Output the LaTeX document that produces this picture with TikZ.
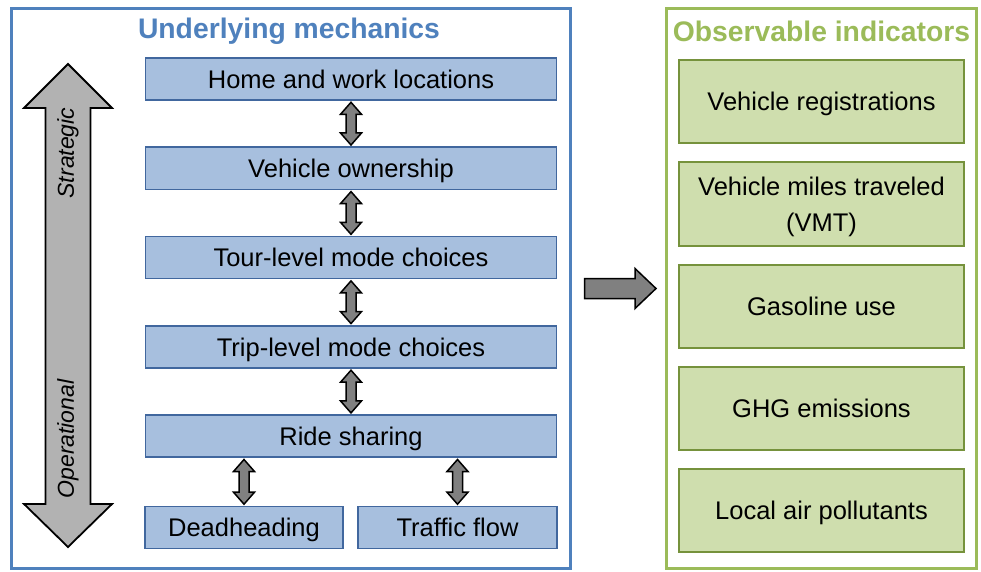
\documentclass[tikz,border=0pt]{standalone}
\usepackage{fontspec}
\setmainfont{Liberation Sans}
\usetikzlibrary{calc}

\definecolor{mechblue}{HTML}{4F81BD}
\definecolor{mechfill}{HTML}{A7BFDE}
\definecolor{mechline}{HTML}{41679E}
\definecolor{obsgreen}{HTML}{9BBB59}
\definecolor{obsfill}{HTML}{CFDEAE}
\definecolor{obsline}{HTML}{76923C}

\tikzset{
	frame/.style={draw=#1, line width=3pt, inner sep=0pt},
	mech/.style={draw=mechline, fill=mechfill, line width=1.6pt, minimum height=42pt, inner sep=0pt, text height=18.3pt, text depth=0pt, font=\fontsize{25.5}{36}\selectfont},
	obs/.style={draw=obsline, fill=obsfill, line width=2pt, minimum width=285pt, minimum height=83pt, inner sep=0pt, text height=18.3pt, text depth=0pt, font=\fontsize{25.5}{36}\selectfont},
	title/.style={anchor=base, text=#1, font=\bfseries\fontsize{28.3}{34}\selectfont},
	fat/.style={draw=black, fill=black!50, line width=1.5pt, line join=miter},
	side/.style={rotate=90, font=\itshape\fontsize{23}{28}\selectfont}
}

% fat double arrow between two stacked boxes
\newcommand\updown[2]{\draw[fat] let \p1=($(#1.south)+(0,1.5)$), \p2=($(#2.north)+(0,-1.5)$) in
	(\x2,\y1) -- (\x2+10.5pt,\y1-12pt) -- (\x2+5pt,\y1-12pt) -- (\x2+5pt,\y2+12pt) -- (\x2+10.5pt,\y2+12pt) -- (\x2,\y2)
	-- (\x2-10.5pt,\y2+12pt) -- (\x2-5pt,\y2+12pt) -- (\x2-5pt,\y1-12pt) -- (\x2-10.5pt,\y1-12pt) -- cycle;}

\begin{document}
\begin{tikzpicture}[x=1pt, y=-1pt]
	%%%%% START %%%%%
	\useasboundingbox (0,0) rectangle (981,572);
	
	% frames
	\node[frame=mechblue, minimum width=559pt, minimum height=559pt] (mechframe) at (290.5, 288.5) {};
	\node[frame=obsgreen, minimum width=310pt, minimum height=559.5pt] (obsframe) at (821.5, 288.5) {};
	\node[title=mechblue] (mechtitle) at (289, 39) {Underlying mechanics};
	\node[title=obsgreen] (obstitle) at (821.5, 42) {Observable indicators};
	
	% strategic / operational
	\draw[line width=1.8pt, fill=black!30, line join=miter] (68, 64) -- (112, 108) -- (90.5, 108) -- (90.5, 504) -- (112, 504) -- (68, 547)
		-- (24, 504) -- (45.5, 504) -- (45.5, 108) -- (24, 108) -- cycle;
	\node[side] (strat) at (68, 153) {Strategic};
	\node[side] (oper) at (68, 439) {Operational};
	
	% underlying mechanics
	\node[mech, minimum width=411pt] (home) at (351, 79) {Home and work locations};
	\node[mech, minimum width=411pt] (own) at (351, 168.3) {Vehicle ownership};
	\node[mech, minimum width=411pt] (tour) at (351, 257.6) {Tour-level mode choices};
	\node[mech, minimum width=411pt] (trip) at (351, 346.9) {Trip-level mode choices};
	\node[mech, minimum width=411pt] (ride) at (351, 436.2) {Ride sharing};
	\node[mech, minimum width=198pt] (dead) at (244, 527.5) {Deadheading};
	\node[mech, minimum width=199pt] (flow) at (457.5, 527.5) {Traffic flow};
	
	\updown{home}{own}
	\updown{own}{tour}
	\updown{tour}{trip}
	\updown{trip}{ride}
	\updown{ride}{dead}
	\updown{ride}{flow}
	
	% observable indicators
	\node[obs] (reg) at (821.5, 101.5) {Vehicle registrations};
	\node[obs, align=center, text height=54.3pt] (vmt) at (821.5, 204) {Vehicle miles traveled\\(VMT)};
	\node[obs] (gas) at (821.5, 306) {Gasoline use};
	\node[obs] (ghg) at (821.5, 408.25) {GHG emissions};
	\node[obs] (air) at (821.5, 510.5) {Local air pollutants};
	
	% mechanics -> indicators
	\draw[fat] let \p1=($(mechframe.east)+(13,0)$), \p2=($(obsframe.west)+(-9,0)$) in
		(\x1,\y1+10pt) -- (\x2-21pt,\y1+10pt) -- (\x2-21pt,\y1+20pt) -- (\x2,\y1) -- (\x2-21pt,\y1-20pt) -- (\x2-21pt,\y1-10pt) -- (\x1,\y1-10pt) -- cycle;
	
	%%%%% END %%%%%
\end{tikzpicture}
\end{document}
